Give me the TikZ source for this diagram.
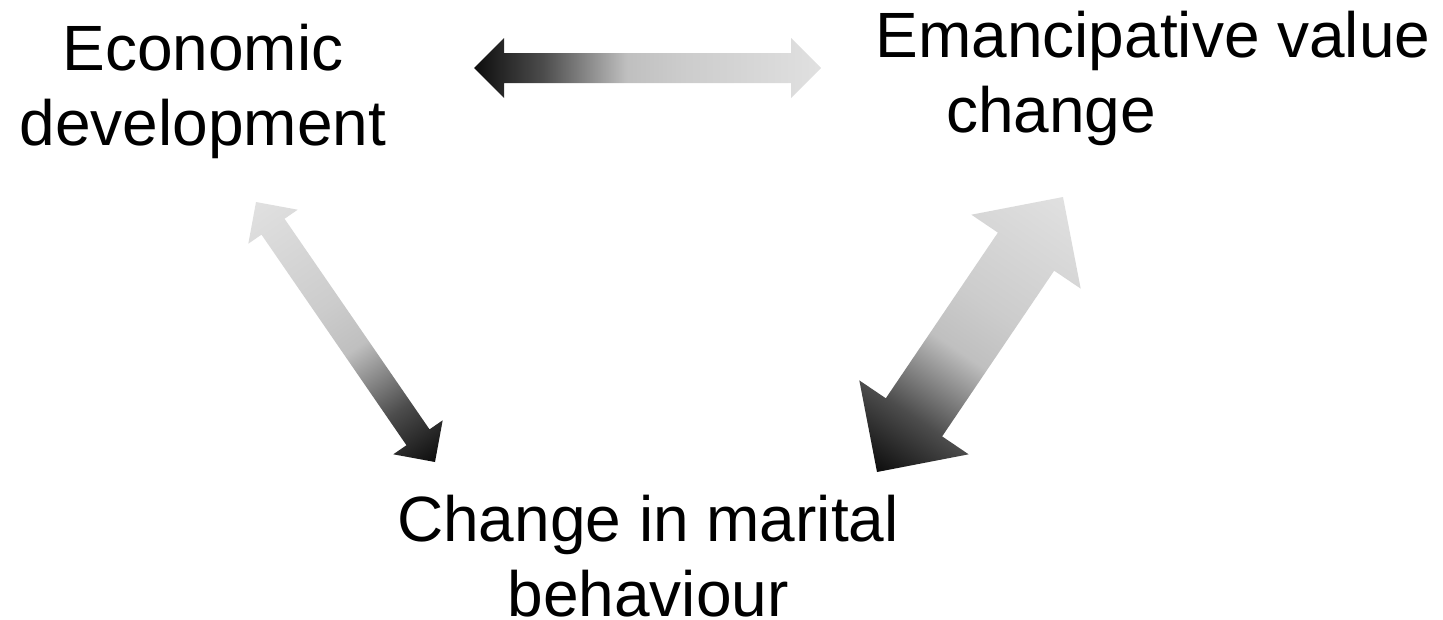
\documentclass[tikz,border=0pt]{standalone}
\usepackage{fontspec}
\setmainfont{Liberation Sans}
\usetikzlibrary{calc}

\pgfdeclarehorizontalshading{darktolight}{100bp}{color(0bp)=(black!97); color(25bp)=(black!95); color(35bp)=(black!70); color(47bp)=(black!25); color(55bp)=(black!20); color(75bp)=(black!12); color(100bp)=(black!12)}

% block arrow from dark tip #1 to light tip #2, half shaft #3, half head #4
\newcommand\gradarrow[4]{%
  \pgfmathanglebetweenpoints{\pgfpointanchor{#1}{center}}{\pgfpointanchor{#2}{center}}%
  \let\arrang\pgfmathresult
  \path let \p1=($(#2)-(#1)$) in \pgfextra{\pgfmathparse{veclen(\x1,\y1)}\xdef\arrlen{\pgfmathresult}};
  \begin{scope}[transform canvas={shift={(#1)},rotate=\arrang}]
    \shade[shading=darktolight] (0pt,0pt) -- (#4pt,#4pt) -- (#4pt,#3pt) -- (\arrlen pt-#4pt,#3pt) -- (\arrlen pt-#4pt,#4pt) -- (\arrlen pt,0pt)
      -- (\arrlen pt-#4pt,-#4pt) -- (\arrlen pt-#4pt,-#3pt) -- (#4pt,-#3pt) -- (#4pt,-#4pt) -- cycle;
  \end{scope}
}

\tikzset{factor/.style={align=center, font=\fontsize{64}{75}\selectfont, inner sep=0pt, anchor=base}}

\begin{document}
\begin{tikzpicture}[x=1pt,y=-1pt]
    \useasboundingbox (0,0) rectangle (1443,619);

    \node[factor] (econ) at (203,145) {Economic\\development};
    \node[factor] (eman) at (1153,132) {Emancipative value\\change\hspace*{204pt}};
    \node[factor] (marital) at (648,616) {Change in marital\\behaviour};

    \coordinate (top-l) at (474,68);
    \coordinate (top-r) at (821,68);
    \coordinate (left-b) at (435,462);
    \coordinate (left-t) at (256,202);
    \coordinate (right-b) at (877,472);
    \coordinate (right-t) at (1063,197);

    \gradarrow{top-l}{top-r}{15}{30}
    \gradarrow{left-b}{left-t}{14}{30}
    \gradarrow{right-b}{right-t}{34}{66}
\end{tikzpicture}
\end{document}
